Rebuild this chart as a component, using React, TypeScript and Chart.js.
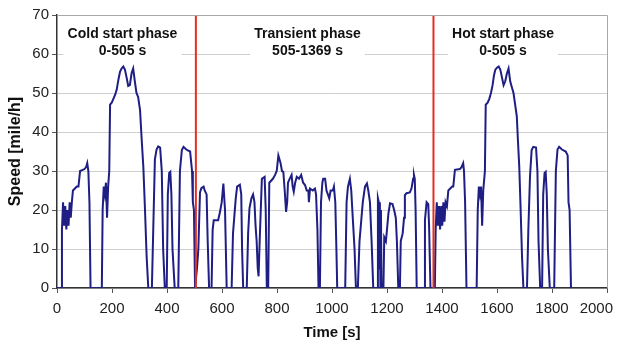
import React, { useEffect, useRef } from "react";
import { Chart, registerables } from "chart.js";

Chart.register(...registerables);

// ---- Data ----
const coldTime = [0, 15, 18, 22, 26, 30, 34, 38, 42, 46, 50, 54, 58, 72, 78, 84, 100, 106, 110, 114, 118, 122, 163, 166, 170, 174, 178, 182, 186, 190, 193, 199, 205, 211, 217, 223, 229, 235, 241, 247, 253, 259, 265, 271, 277, 283, 289, 295, 302, 308, 314, 320, 326, 332, 345, 350, 356, 362, 368, 375, 381, 386, 392, 399, 403, 408, 412, 416, 420, 428, 441, 447, 454, 460, 470, 484, 491, 494, 498, 502];
const coldSpeed = [0, 0, 15, 22, 16, 21, 15, 20, 16, 22, 18, 22, 25, 26, 26, 30, 30.5, 31, 32, 30, 22, 0, 0, 20, 26, 24, 27, 18, 26, 30, 47, 47.5, 48.5, 49.5, 50.8, 53.3, 55.4, 56.3, 56.8, 56, 54, 51.8, 52, 55, 56.3, 53, 50, 49, 45.6, 38, 31, 20, 8, 0, 0, 15, 33, 35.5, 36.3, 36, 30, 10, 0, 0, 24, 29.5, 29.8, 24, 10, 0, 0, 30, 35.4, 36.2, 35.5, 35, 30, 22, 20, 0];

const transientTime = [505, 509, 514, 520, 525, 533, 537, 544, 548, 553, 562, 566, 570, 586, 593, 599, 605, 611, 617, 635, 640, 645, 650, 655, 665, 670, 673, 677, 690, 695, 700, 707, 713, 718, 722, 726, 730, 733, 737, 741, 745, 755, 759, 763, 768, 772, 785, 793, 799, 805, 809, 813, 818, 823, 828, 833, 837, 840, 846, 853, 857, 861, 866, 872, 880, 888, 895, 902, 908, 914, 916, 920, 930, 938, 942, 947, 951, 956, 960, 965, 968, 975, 980, 990, 995, 1003, 1007, 1012, 1016, 1019, 1048, 1053, 1058, 1065, 1070, 1076, 1082, 1087, 1094, 1100, 1106, 1112, 1120, 1127, 1132, 1138, 1144, 1150, 1164, 1167, 1170, 1172, 1174, 1176, 1178, 1180, 1187, 1190, 1196, 1200, 1205, 1211, 1220, 1226, 1232, 1236, 1241, 1247, 1250, 1257, 1262, 1265, 1271, 1283, 1289, 1295, 1298, 1301, 1304, 1308, 1336, 1338, 1344, 1350, 1353, 1356, 1358, 1369];
const transientSpeed = [0, 5, 10, 24.5, 25.6, 26, 25, 24, 12, 0, 0, 14.9, 17.4, 17.4, 19.6, 22, 26.8, 20, 0, 0, 14, 18.5, 23, 26, 26.5, 24, 10, 0, 0, 14, 20.5, 23, 24, 22, 16, 12, 5, 3, 12, 20, 28, 28.5, 20, 0, 0, 27, 28, 29, 30, 34, 33, 32, 30, 29.8, 25, 19.5, 22, 27, 28, 29, 26, 24.7, 27, 28.5, 28, 29, 27, 26.4, 25, 25, 22, 25.5, 25, 25.5, 24, 15, 0, 0, 22, 27, 28, 28, 25, 23, 25, 25, 26, 22, 10, 0, 0, 22, 26, 28, 25, 17.4, 10, 0, 0, 12, 17, 22, 26, 26.8, 25, 22, 12, 0, 0, 23, 22, 5, 22, 0, 20, 0, 0, 13, 12, 15, 19, 21.7, 21.5, 20, 18, 12, 0, 0, 12, 14, 18, 23.8, 24.3, 24.5, 25.5, 28, 29, 28, 20, 0, 0, 17.4, 22, 21.5, 16, 16, 0, 0];

const hotTime = [1369, 1374, 1377, 1381, 1385, 1389, 1393, 1397, 1401, 1405, 1409, 1413, 1418, 1423, 1437, 1441, 1447, 1465, 1471, 1477, 1480, 1484, 1489, 1526, 1530, 1534, 1538, 1542, 1546, 1550, 1556, 1559, 1566, 1572, 1578, 1584, 1589, 1594, 1600, 1606, 1612, 1618, 1624, 1630, 1636, 1642, 1648, 1654, 1660, 1666, 1672, 1676, 1681, 1686, 1691, 1696, 1709, 1714, 1720, 1726, 1732, 1742, 1747, 1751, 1757, 1764, 1768, 1773, 1777, 1781, 1785, 1792, 1808, 1814, 1820, 1826, 1836, 1850, 1857, 1860, 1864, 1869, 1874];
const hotSpeed = [0, 0, 15, 22, 16, 21, 15, 21, 16, 22, 17, 22, 21, 25, 26, 26, 30.3, 30.5, 31, 32, 30, 22, 0, 0, 20, 26, 24, 26, 16, 25, 30, 47, 47.5, 48.5, 50, 52, 54.5, 56, 56.5, 56.8, 56, 54, 52, 53, 55, 56.3, 53, 51.5, 50, 47, 44, 38, 31, 20, 8, 0, 0, 15, 28.6, 35.4, 36.2, 36, 30, 12, 0, 0, 24, 29.5, 29.8, 24, 10, 0, 0, 30, 35.5, 36.2, 35.5, 35, 34, 22, 20, 0, 0];

const phaseBoundaries = [505, 1369];
const phaseTitles = ["Cold start phase", "Transient phase", "Hot start phase"];
const phaseRanges = ["0-505 s", "505-1369 s", "0-505 s"];
const phaseCenters = [238, 911, 1622];

const xTickValues = [0, 200, 400, 600, 800, 1000, 1200, 1400, 1600, 1800, 2000];
const xTitle = "Time [s]";
const yTitle = "Speed [mile/h]";

const FONT = '"Liberation Sans", Arial, Helvetica, sans-serif';

const phasePlugin = {
  id: "phaseLabels",
  afterDatasetsDraw(chart: any) {
    const { ctx, chartArea, scales } = chart;
    const x = scales.x;
    ctx.save();
    // top and right frame
    ctx.strokeStyle = "#a8a8a8";
    ctx.lineWidth = 1;
    ctx.beginPath();
    ctx.moveTo(chartArea.left, chartArea.top + 0.5);
    ctx.lineTo(chartArea.right + 0.5, chartArea.top + 0.5);
    ctx.lineTo(chartArea.right + 0.5, chartArea.bottom);
    ctx.stroke();

    ctx.font = "bold 14px " + FONT;
    ctx.textAlign = "center";
    ctx.textBaseline = "middle";
    const y1 = chartArea.top + 19;
    const y2 = chartArea.top + 36;
    phaseTitles.forEach((t, i) => {
      const cx = x.getPixelForValue(phaseCenters[i]);
      const w = Math.max(ctx.measureText(t).width, ctx.measureText(phaseRanges[i]).width) + 8;
      ctx.fillStyle = "#ffffff";
      ctx.fillRect(cx - w / 2, y1 - 9, w, y2 - y1 + 18);
      ctx.fillStyle = "#111111";
      ctx.fillText(t, cx, y1);
      ctx.fillText(phaseRanges[i], cx, y2);
    });

    // x tick labels (last one kept inside the canvas, as in the original)
    ctx.font = "15px " + FONT;
    ctx.fillStyle = "#222222";
    const ly = chartArea.bottom + 21;
    const maxRight = chart.width - 9;
    xTickValues.forEach((v) => {
      const s = String(v);
      const w = ctx.measureText(s).width;
      const cx = Math.min(x.getPixelForValue(v), maxRight - w / 2);
      ctx.fillText(s, cx, ly);
    });
    ctx.restore();
  },
};

export default function App() {
  const ref = useRef<HTMLCanvasElement | null>(null);

  useEffect(() => {
    document.body.style.margin = "0";
    const canvas = ref.current;
    if (!canvas) return;

    const trace = [
      ...coldTime.map((t, i) => ({ x: t, y: coldSpeed[i] })),
      ...transientTime.map((t, i) => ({ x: t, y: transientSpeed[i] })),
      ...hotTime.map((t, i) => ({ x: t, y: hotSpeed[i] })),
    ];

    const redSets = phaseBoundaries.map((b) => ({
      data: [
        { x: b, y: 0 },
        { x: b, y: 70 },
      ],
      borderColor: "#e2301f",
      borderWidth: 2,
      pointRadius: 0,
    }));

    const chart = new Chart(canvas, {
      type: "line",
      data: {
        datasets: [
          ...redSets,
          {
            data: trace,
            borderColor: "#1e1e84",
            borderWidth: 2,
            pointRadius: 0,
            tension: 0,
          },
        ],
      },
      options: {
        animation: false,
        responsive: false,
        devicePixelRatio: 1,
        layout: { padding: { top: 15, right: 15, left: 0, bottom: 0 } },
        plugins: { legend: { display: false }, tooltip: { enabled: false } },
        scales: {
          x: {
            type: "linear",
            min: 0,
            max: 2000,
            ticks: { display: false, stepSize: 200 },
            grid: { drawOnChartArea: false, drawTicks: true, tickLength: 5, tickColor: "#555" },
            border: { color: "#333", width: 1.5 },
            title: {
              display: true,
              text: xTitle,
              font: { size: 15, weight: "bold", family: FONT },
              color: "#111",
              padding: { top: 0, bottom: 2 },
            },
            afterFit: (s: any) => {
              s.height = 56;
              s.paddingLeft = 0;
              s.paddingRight = 0;
            },
          },
          y: {
            type: "linear",
            min: 0,
            max: 70,
            ticks: { stepSize: 10, font: { size: 15, family: FONT }, color: "#222", padding: 3 },
            grid: { color: "#cfcfcf", tickLength: 5, tickColor: "#555" },
            border: { color: "#333", width: 1.5 },
            title: {
              display: true,
              text: yTitle,
              font: { size: 16, weight: "bold", family: FONT },
              color: "#111",
              padding: { top: 6, bottom: 0 },
            },
            afterFit: (s: any) => {
              s.width = 57;
            },
          },
        },
      } as any,
      plugins: [phasePlugin],
    });
    return () => chart.destroy();
  }, []);

  return (
    <div style={{ width: 622, height: 344, position: "relative", background: "#fff" }}>
      <canvas ref={ref} width={622} height={344} style={{ display: "block" }} />
    </div>
  );
}
